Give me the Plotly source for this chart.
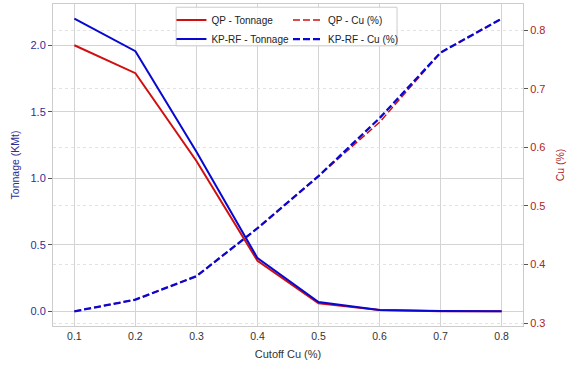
import plotly.graph_objects as go

cutoff = [0.1, 0.2, 0.3, 0.4, 0.5, 0.6, 0.7, 0.8]
qp_tonnage = [2.0, 1.79, 1.13, 0.38, 0.06, 0.01, 0.0, 0.0]
kp_tonnage = [2.2, 1.955, 1.2, 0.40, 0.07, 0.01, 0.003, 0.0]
qp_cu = [0.32, 0.34, 0.38, 0.462, 0.551, 0.643, 0.762, 0.82]
kp_cu = [0.32, 0.34, 0.38, 0.462, 0.551, 0.65, 0.762, 0.82]

RED = "#d01010"
BLUE = "#0808d0"
FONT = "Arial, Liberation Sans, sans-serif"

fig = go.Figure()
fig.add_trace(go.Scatter(x=cutoff, y=qp_tonnage, name="QP - Tonnage", mode="lines",
                         line=dict(color=RED, width=2), legend="legend"))
fig.add_trace(go.Scatter(x=cutoff, y=kp_tonnage, name="KP-RF - Tonnage", mode="lines",
                         line=dict(color=BLUE, width=2), legend="legend"))
fig.add_trace(go.Scatter(x=cutoff, y=qp_cu, name="QP - Cu (%)", mode="lines", yaxis="y2",
                         line=dict(color=RED, width=1.5, dash="7px,3px"), legend="legend2"))
fig.add_trace(go.Scatter(x=cutoff, y=kp_cu, name="KP-RF - Cu (%)", mode="lines", yaxis="y2",
                         line=dict(color=BLUE, width=2.3, dash="7px,3px"), legend="legend2"))

fig.update_layout(
    width=568, height=366,
    margin=dict(l=53, r=39, t=3, b=40),
    paper_bgcolor="white", plot_bgcolor="white",
    font=dict(family=FONT, size=10, color="#333333"),
    xaxis=dict(range=[0.065, 0.835], tickvals=cutoff, tickformat=".1f",
               showgrid=True, gridcolor="#d4d4d4", gridwidth=1,
               showline=True, mirror=True, linecolor="#cccccc", linewidth=1,
               ticks="", zeroline=False,
               title=dict(text="Cutoff Cu (%)", font=dict(size=11, color="#333333"), standoff=9),
               tickfont=dict(size=10.5, color="#333333")),
    yaxis=dict(range=[-0.11, 2.31], tickvals=[0, 0.5, 1.0, 1.5, 2.0], tickformat=".1f",
               showgrid=True, gridcolor="#d4d4d4", gridwidth=1,
               showline=True, mirror=True, linecolor="#cccccc", linewidth=1,
               ticks="outside", ticklen=4, tickcolor="#555555", zeroline=False,
               tickfont=dict(size=11, color="#2e2e99"),
               title=dict(text="Tonnage (KMt)", font=dict(size=10.5, color="#2e2e99"), standoff=8)),
    yaxis2=dict(range=[0.295, 0.845], tickvals=[0.3, 0.4, 0.5, 0.6, 0.7, 0.8], tickformat=".1f",
                overlaying="y", side="right",
                showgrid=True, gridcolor="#e2e2e2", gridwidth=1, griddash="dot",
                showline=True, linecolor="#cccccc", linewidth=1,
                ticks="outside", ticklen=4, tickcolor="#555555", zeroline=False,
                tickfont=dict(size=11, color="#b22222"),
                title=dict(text="Cu (%)", font=dict(size=10.5, color="#b22222"), standoff=12)),
    legend=dict(x=0.252, y=0.995, xanchor="left", yanchor="top", bgcolor="rgba(0,0,0,0)",
                borderwidth=0, font=dict(size=10, color="#222222"), itemwidth=30,
                tracegroupgap=0),
    legend2=dict(x=0.50, y=0.995, xanchor="left", yanchor="top", bgcolor="rgba(0,0,0,0)",
                 borderwidth=0, font=dict(size=10, color="#222222"), itemwidth=30,
                 tracegroupgap=0),
    shapes=[dict(type="rect", xref="paper", yref="paper", x0=0.262, x1=0.732,
                 y0=0.87, y1=0.99, layer="above",
                 fillcolor="rgba(255,255,255,0.85)", line=dict(color="#cccccc", width=1))],
)

fig.write_html("out.html")
